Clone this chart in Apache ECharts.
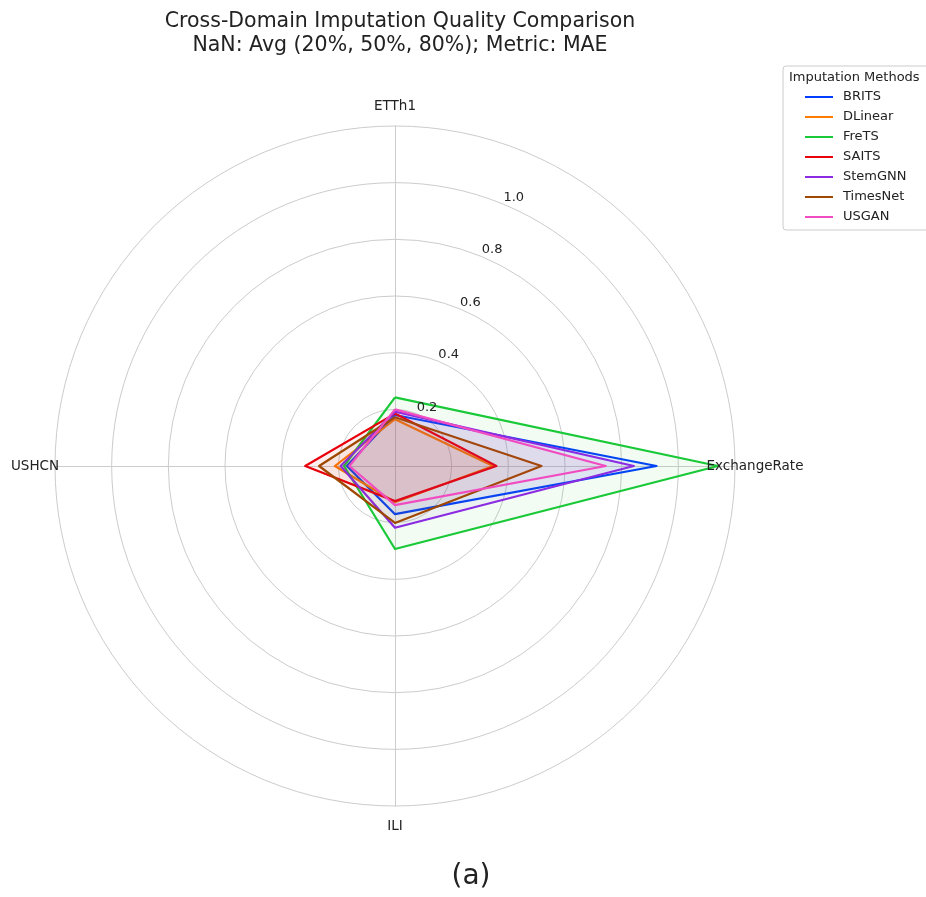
<!DOCTYPE html>
<html>
<head>
<meta charset="utf-8">
<script src="https://cdn.jsdelivr.net/npm/echarts@6/dist/echarts.min.js"></script>
<style>
html,body{margin:0;padding:0;background:#fff;}
#chart{width:926px;height:897px;}
</style>
</head>
<body>
<div id="chart"></div>
<script>
// Axes (clockwise from top)
const categories = ['ETTh1', 'ExchangeRate', 'ILI', 'USHCN'];
const methods = ['BRITS', 'DLinear', 'FreTS', 'SAITS', 'StemGNN', 'TimesNet', 'USGAN'];
const colors = ['#023eff', '#ff7c00', '#1ac938', '#e8000b', '#8b2be2', '#9f4800', '#f14cc1'];
// MAE values per method, order = categories
const BRITS    = [0.180, 0.923, 0.170, 0.170];
const DLinear  = [0.165, 0.346, 0.128, 0.212];
const FreTS    = [0.242, 1.140, 0.293, 0.180];
const SAITS    = [0.185, 0.358, 0.124, 0.317];
const StemGNN  = [0.192, 0.843, 0.218, 0.192];
const TimesNet = [0.172, 0.517, 0.201, 0.268];
const USGAN    = [0.200, 0.744, 0.138, 0.161];
const seriesValues = [BRITS, DLinear, FreTS, SAITS, StemGNN, TimesNet, USGAN];
const radialMax = 1.2;
const radialStep = 0.2;

const FONT = 'DejaVu Sans';
const cx = 395, cy = 466, R = 340;

// ECharts radar lays indicators counter-clockwise; reorder so they read clockwise
const order = categories.map((c, i) => (categories.length - i) % categories.length);
const indicator = order.map(i => ({ name: categories[i], min: 0, max: radialMax }));

const chart = echarts.init(document.getElementById('chart'));

const nameLabels = categories.map((name, i) => {
  const a = (90 - i * 360 / categories.length) * Math.PI / 180;
  const rl = R + 20;
  return {
    type: 'text',
    x: cx + rl * Math.cos(a),
    y: cy - rl * Math.sin(a),
    style: { text: name, font: '13.5px "' + FONT + '"', fill: '#222', align: 'center', verticalAlign: 'middle' },
    z: 100
  };
});

chart.setOption({
  backgroundColor: '#fff',
  animation: false,
  title: [
    {
      text: 'Cross-Domain Imputation Quality Comparison\nNaN: Avg (20%, 50%, 80%); Metric: MAE',
      left: cx, top: 5, textAlign: 'center',
      textStyle: { fontFamily: FONT, fontSize: 20.5, fontWeight: 'normal', color: '#222', lineHeight: 24 }
    },
    {
      text: 'Imputation Methods', left: 784, top: 66,
      textStyle: { fontFamily: FONT, fontSize: 13, fontWeight: 'normal', color: '#222' }, z: 10
    },
    {
      text: '(a)', left: 466, top: 858, textAlign: 'center',
      textStyle: { fontFamily: FONT, fontSize: 28, fontWeight: 'normal', color: '#222' }
    }
  ],
  legend: {
    orient: 'vertical', left: 783, top: 66,
    padding: [23, 60, 5, 22],
    itemGap: 4, itemWidth: 28, itemHeight: 2, icon: 'rect',
    borderColor: '#cccccc', borderWidth: 1, borderRadius: 3, backgroundColor: '#fff',
    textStyle: { fontFamily: FONT, fontSize: 13, color: '#222', lineHeight: 16, padding: [0, 0, 0, 5] },
    data: methods
  },
  radar: {
    center: [cx, cy], radius: R, startAngle: 90, shape: 'circle',
    splitNumber: Math.round(radialMax / radialStep),
    indicator: indicator,
    axisName: { show: false },
    axisLine: { lineStyle: { color: '#cccccc', width: 1 } },
    splitLine: { lineStyle: { color: '#cccccc', width: 1 } },
    splitArea: { show: false },
    axisTick: { show: false },
    axisLabel: { show: false }
  },
  polar: { center: [cx, cy], radius: R },
  angleAxis: {
    type: 'value', startAngle: 67.5, min: 0, max: 360, show: false
  },
  radiusAxis: {
    min: 0, max: radialMax, interval: radialStep,
    axisLine: { show: false }, axisTick: { show: false }, splitLine: { show: false },
    axisLabel: {
      show: true, margin: 0, align: 'left', verticalAlign: 'bottom',
      showMinLabel: false, showMaxLabel: false,
      fontFamily: FONT, fontSize: 13, color: '#222',
      formatter: v => v.toFixed(1)
    },
    z: 50
  },
  graphic: nameLabels,
  series: [{
    type: 'radar',
    symbol: 'none',
    data: methods.map((m, k) => ({
      name: m,
      value: order.map(i => seriesValues[k][i]),
      lineStyle: { color: colors[k], width: 2.2 },
      itemStyle: { color: colors[k] },
      areaStyle: { color: colors[k], opacity: 0.06 }
    }))
  }]
});
</script>
</body>
</html>
